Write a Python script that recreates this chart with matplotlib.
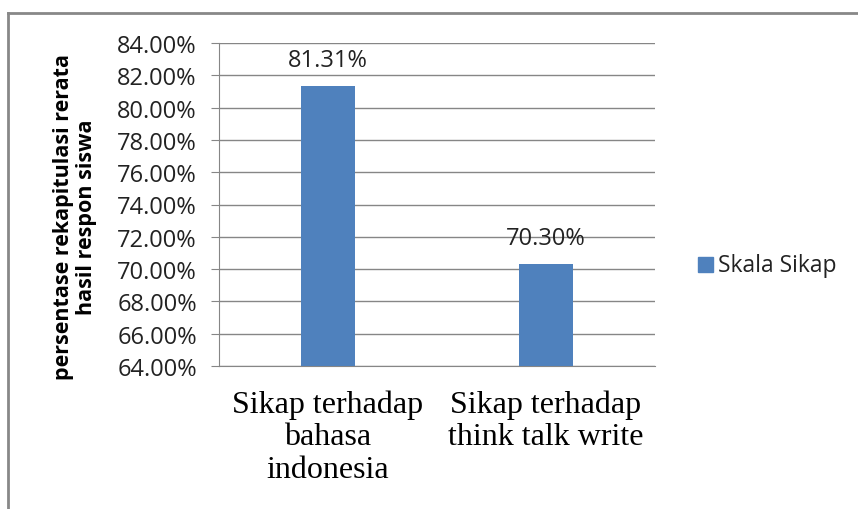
import matplotlib.pyplot as plt
from matplotlib.lines import Line2D
from matplotlib.ticker import FuncFormatter

categories = ["Sikap terhadap\nbahasa\nindonesia", "Sikap terhadap\nthink talk write"]
skala_sikap = [81.31, 70.30]
y_ticks = [64, 66, 68, 70, 72, 74, 76, 78, 80, 82, 84]

W, H = 858, 510
fig = plt.figure(figsize=(W / 100, H / 100), dpi=100)

# plot area in pixel terms: left 219, right 655, top 44, bottom 367
ax = fig.add_axes([219 / W, 1 - 367 / H, (655 - 219) / W, (367 - 44) / H])

bar_color = "#4F81BD"
grid_color = "#868686"
sans = "Open Sans"
txt = "#222222"

x = list(range(len(categories)))
bars = ax.bar(x, skala_sikap, width=0.25, color=bar_color, zorder=3, label="Skala Sikap")

ax.set_xlim(-0.5, 1.5)
ax.set_ylim(y_ticks[0], y_ticks[-1])
ax.set_yticks(y_ticks)
ax.yaxis.set_major_formatter(FuncFormatter(lambda v, p: f"{v:.2f}%"))
ax.grid(axis="y", color=grid_color, linewidth=1, zorder=0)

for s in ["top", "right"]:
    ax.spines[s].set_visible(False)
ax.spines["left"].set_color(grid_color)
ax.spines["bottom"].set_color(grid_color)

ax.tick_params(axis="y", length=6, color=grid_color, labelsize=17, pad=10, labelcolor=txt)
for t in ax.get_yticklabels():
    t.set_fontfamily(sans)

ax.set_xticks(x)
ax.set_xticklabels(categories, fontfamily="Liberation Serif", fontsize=23, linespacing=1.15)
ax.tick_params(axis="x", length=0, pad=17)

for b, v in zip(bars, skala_sikap):
    ax.annotate(f"{v:.2f}%", (b.get_x() + b.get_width() / 2, v), xytext=(0, 19),
                textcoords="offset points", ha="center", va="center",
                fontsize=17, fontfamily=sans, color=txt)

fig.text(75 / W, 1 - 217 / H, "persentase rekapitulasi rerata\nhasil respon siswa",
         rotation=90, ha="center", va="center", fontsize=15.5, fontweight="bold",
         fontfamily=sans, linespacing=1.1)

# legend entry
fig.add_artist(plt.Rectangle((698 / W, 1 - 273 / H), 15 / W, 15 / H, color=bar_color,
                             transform=fig.transFigure))
fig.text(718 / W, 1 - 266 / H, "Skala Sikap", ha="left", va="center",
         fontsize=16.5, fontfamily=sans, color=txt)

# chart border
fig.add_artist(Line2D([8 / W, 8 / W], [-0.05, 1 - 14 / H], color="#888888", linewidth=2,
                      transform=fig.transFigure))
fig.add_artist(Line2D([8 / W, 1.05], [1 - 14 / H, 1 - 14 / H], color="#888888", linewidth=2,
                      transform=fig.transFigure))

fig.savefig("out.png", dpi=100, facecolor="white")
